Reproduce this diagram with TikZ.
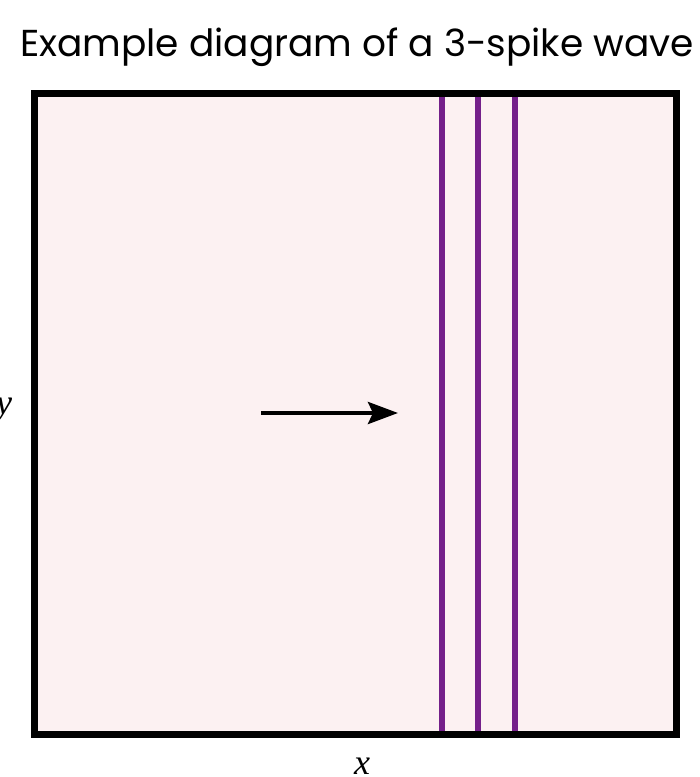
\documentclass[tikz,border=0pt]{standalone}
\usepackage{fontspec}
\setsansfont{Poppins}
\newfontfamily\labelfont{Liberation Serif}
\definecolor{spikepurple}{HTML}{74208A}
\definecolor{tankfill}{HTML}{FCF1F2}
\usetikzlibrary{arrows.meta, positioning}

\begin{document}
\begin{tikzpicture}[x=1pt, y=-1pt,
  tank/.style={draw=black, line width=7pt, fill=tankfill, minimum width=642pt,
               minimum height=641pt, inner sep=0pt},
  spike/.style={draw=spikepurple, line width=6pt},
  axislabel/.style={font=\labelfont\itshape\fontsize{36}{40}\selectfont, inner sep=0pt},
  heading/.style={font=\sffamily\fontsize{37.5}{42}\selectfont, inner sep=0pt}
]
\useasboundingbox (0,0) rectangle (700,777);

\node[heading] (title) at (357,47) {Example diagram of a 3-spike wave};

\node[tank] (tank) at (355,414) {};

% the three spikes
\foreach \sx in {442,478,515}
  \draw[spike] (\sx,97) -- (\sx,731);

\coordinate (tail) at (261,413);
\coordinate (head) at (398,413);
\draw[line width=4pt, -{Stealth[length=30pt, width=22pt, inset=5pt]}] (tail) -- (head);

\node[axislabel] (ylab) at (4,410) {y};
\node[axislabel] (xlab) at (362,766) {x};
\end{tikzpicture}
\end{document}
